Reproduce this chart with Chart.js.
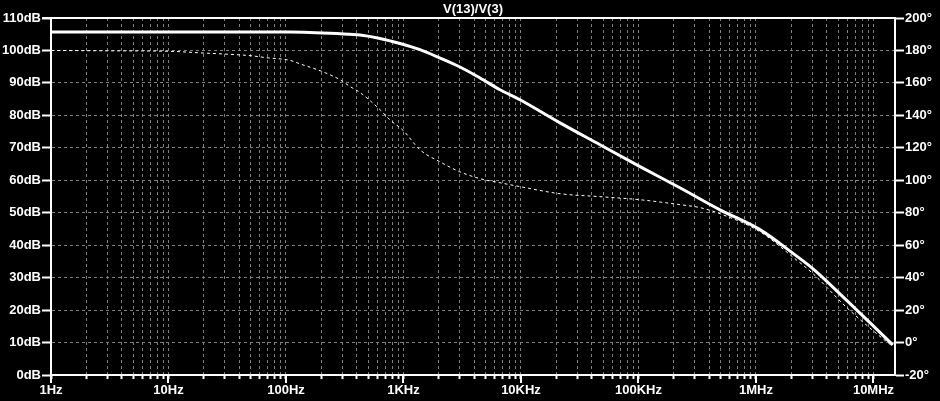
<!DOCTYPE html>
<html>
<head>
<meta charset="utf-8">
<style>
  html, body { margin: 0; padding: 0; background: #000; }
  #wrap { width: 940px; height: 401px; background: #000; }
</style>
<script src="https://cdn.jsdelivr.net/npm/chart.js@4.4.1/dist/chart.umd.min.js"></script>
</head>
<body>
<div id="wrap"><canvas id="c" width="940" height="401"></canvas></div>
<script>
// ---- data ----
const chartTitle = 'V(13)/V(3)';

// magnitude trace (solid)
const magFreq = [1, 10, 108, 288, 426, 631, 934, 1381, 2045, 3027, 4477, 6625, 9800,
                 21500, 47000, 103000, 225000, 494000, 1080000, 2150000, 3060000, 5950000, 9700000, 14600000];
const magDb   = [105.7, 105.7, 105.69, 105.16, 104.76, 103.71, 102.14, 100.23, 97.67, 94.9, 91.52, 87.9, 84.82,
                 77.7, 70.96, 64.2, 57.7, 50.9, 44.8, 37.0, 32.7, 22.9, 15.5, 9.3];

// phase trace (dotted)
const phaseFreq = [1, 2.6, 9.9, 20, 29.6, 49.4, 69, 108, 132, 195, 288, 350, 426, 631, 765, 1000,
                   1380, 2040, 3000, 4480, 6600, 9800, 21500, 47000, 103000, 225000, 336000, 494000,
                   1080000, 2150000, 3060000, 5950000, 9700000, 14600000];
const phaseDeg  = [180, 179.8, 179.5, 178.4, 177.8, 176.8, 175.5, 173.9, 171.7, 167.5, 162, 157.8, 154.1, 143.5, 137.3, 130.5,
                   118.8, 111.4, 105.3, 101, 98.5, 96.1, 91.7, 89.9, 88, 85, 83.1, 79.4,
                   68.3, 51.6, 42.4, 21.4, 7.9, -2.5];

// axes
const freqMin = 1;
const freqMax = 15240000;
const decadeValues = [1, 10, 100, 1000, 10000, 100000, 1000000, 10000000];
const decadeLabels = ['1Hz', '10Hz', '100Hz', '1KHz', '10KHz', '100KHz', '1MHz', '10MHz'];
const dbTicks  = [0, 10, 20, 30, 40, 50, 60, 70, 80, 90, 100, 110];
const degTicks = [-20, 0, 20, 40, 60, 80, 100, 120, 140, 160, 180, 200];

// ---- chart ----
const GRID = 'rgb(128,128,128)';
const WHITE = '#ffffff';
Chart.defaults.font.family = '"Liberation Sans", Arial, sans-serif';
Chart.defaults.font.size = 13;
Chart.defaults.font.weight = 'bold';
Chart.defaults.color = WHITE;

function toXY(xs, ys) { return xs.map((x, i) => ({ x: x, y: ys[i] })); }

const frameAndTitle = {
  id: 'frameAndTitle',
  afterDatasetsDraw(chart) {
    const { ctx, chartArea: a, scales } = chart;
    ctx.save();
    ctx.strokeStyle = WHITE;
    ctx.lineWidth = 2;
    decadeValues.forEach(v => {
      const px = Math.round(scales.x.getPixelForValue(v));
      ctx.beginPath();
      ctx.moveTo(px, a.bottom);
      ctx.lineTo(px, a.bottom + 8);
      ctx.stroke();
    });
    ctx.beginPath();
    ctx.moveTo(a.left - 9, a.top);
    ctx.lineTo(a.right + 1, a.top);
    ctx.stroke();
    ctx.fillStyle = WHITE;
    ctx.font = 'bold 13px "Liberation Sans", Arial, sans-serif';
    ctx.textAlign = 'center';
    ctx.textBaseline = 'middle';
    ctx.fillText(chartTitle, (a.left + a.right) / 2, a.top - 9);
    ctx.restore();
  }
};

new Chart(document.getElementById('c'), {
  type: 'line',
  data: {
    datasets: [
      {
        label: 'mag',
        data: toXY(magFreq, magDb),
        yAxisID: 'y',
        borderColor: WHITE,
        borderWidth: 3,
        pointRadius: 0,
        cubicInterpolationMode: 'monotone',
        fill: false
      },
      {
        label: 'phase',
        data: toXY(phaseFreq, phaseDeg),
        yAxisID: 'y2',
        borderColor: WHITE,
        borderWidth: 1,
        borderDash: [3, 3],
        pointRadius: 0,
        cubicInterpolationMode: 'monotone',
        fill: false
      }
    ]
  },
  options: {
    responsive: false,
    animation: false,
    events: [],
    layout: { padding: { top: 18, left: 0, right: 0, bottom: 0 } },
    plugins: { legend: { display: false }, tooltip: { enabled: false }, title: { display: false } },
    scales: {
      x: {
        type: 'logarithmic',
        position: 'bottom',
        min: freqMin,
        max: freqMax,
        afterBuildTicks(scale) {
          const t = [];
          for (let d = 1; d <= 10000000; d *= 10) {
            for (let m = 1; m <= 9; m++) {
              const v = d * m;
              if (v <= freqMax) t.push({ value: v, major: m === 1 });
            }
          }
          scale.ticks = t;
        },
        afterFit(scale) { scale.height = 26; },
        ticks: {
          autoSkip: false,
          maxRotation: 0,
          padding: 4,
          color: WHITE,
          callback(value) {
            const i = decadeValues.indexOf(value);
            return i >= 0 ? decadeLabels[i] : '';
          }
        },
        grid: {
          color: GRID,
          lineWidth: 1,
          drawTicks: true,
          tickLength: 4,
          tickColor: WHITE,
          tickWidth: 2
        },
        border: { display: true, color: WHITE, width: 2, dash: [3, 3] }
      },
      y: {
        type: 'linear',
        position: 'left',
        min: 0,
        max: 110,
        afterBuildTicks(scale) { scale.ticks = dbTicks.map(v => ({ value: v })); },
        afterFit(scale) { scale.width = 51; },
        ticks: {
          padding: 1,
          color: WHITE,
          callback(value) { return value + 'dB'; }
        },
        grid: {
          color: GRID,
          lineWidth: 1,
          drawTicks: true,
          tickLength: 9,
          tickColor: WHITE,
          tickWidth: 2
        },
        border: { display: true, color: WHITE, width: 2, dash: [3, 3] }
      },
      y2: {
        type: 'linear',
        position: 'right',
        min: -20,
        max: 200,
        afterBuildTicks(scale) { scale.ticks = degTicks.map(v => ({ value: v })); },
        afterFit(scale) { scale.width = 45; },
        ticks: {
          padding: 1,
          color: WHITE,
          callback(value) { return value + '°'; }
        },
        grid: {
          drawOnChartArea: false,
          drawTicks: true,
          tickLength: 9,
          tickColor: WHITE,
          tickWidth: 2
        },
        border: { display: true, color: WHITE, width: 2 }
      }
    }
  },
  plugins: [frameAndTitle]
});
</script>
</body>
</html>
